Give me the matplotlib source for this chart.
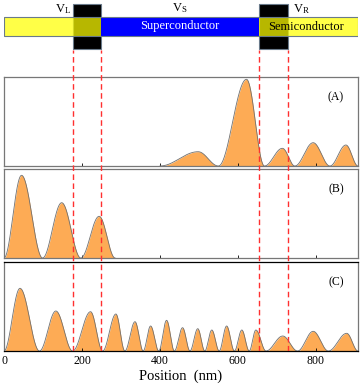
import numpy as np
import matplotlib
matplotlib.use("Agg")
import matplotlib.pyplot as plt
from matplotlib.patches import Rectangle

plt.rcParams['font.family'] = ['Liberation Serif', 'DejaVu Serif']
plt.rcParams['mathtext.fontset'] = 'custom'
plt.rcParams['mathtext.rm'] = 'Liberation Serif'

# ---- data (nm, arbitrary density units) ----
x_max = 908
barriers_left = [176, 250]
barriers_right = [653, 729]
ticks = [0, 200, 400, 600, 800]

# Panel A: node positions and lobe peaks
a_nodes = [400, 550, 668, 746, 836, 908]
a_peak_pos = [498, 622, 714, 793, 877]
a_peak_h = [14.3, 86.7, 17.7, 23.3, 21.0]

# Panel B
b_nodes = [0, 99, 197, 285]
b_peak_pos = [45, 148, 244]
b_peak_h = [82.7, 55.3, 41.7]

# Panel C
c_nodes = [0, 91, 176, 253, 310, 357, 397, 437, 477, 515, 552, 591, 629, 672, 753, 832, 908]
c_peak_pos = [41, 133, 222, 287, 336, 376, 417, 458, 497, 533, 571, 610, 646, 715, 793, 879]
c_peak_h = [62.7, 40.0, 39.3, 37.0, 29.3, 25.0, 30.7, 23.3, 22.3, 21.0, 25.0, 21.0, 21.0, 15.0, 19.7, 17.7]

panel_labels = ['(A)', '(B)', '(C)']


def build_curve(nodes, pos, h, n=120):
    xs, ys = [], []
    for i in range(len(pos)):
        n0, n1, p, hh = nodes[i], nodes[i + 1], pos[i], h[i]
        xl = np.linspace(n0, p, n)
        yl = hh * np.sin(np.pi / 2 * (xl - n0) / (p - n0)) ** 2
        xr = np.linspace(p, n1, n)
        yr = hh * np.sin(np.pi / 2 * (n1 - xr) / (n1 - p)) ** 2
        xs += [xl, xr]
        ys += [yl, yr]
    return np.concatenate(xs), np.concatenate(ys)


W, H = 360, 387
fig = plt.figure(figsize=(W / 100, H / 100), dpi=100)

def ax_rect(x0, y0, x1, y1):
    return [x0 / W, (H - y1) / H, (x1 - x0) / W, (y1 - y0) / H]

# ---- schematic ----
axs = fig.add_axes(ax_rect(4, 0, 358, 55))
axs.set_xlim(0, x_max)
axs.set_ylim(55, 0)
axs.axis('off')
for b in (barriers_left, barriers_right):
    axs.add_patch(Rectangle((b[0], 4), b[1] - b[0], 45, facecolor='black',
                            edgecolor='#6a7a8a', lw=0.8, zorder=1))
axs.add_patch(Rectangle((0, 16.7), x_max, 19, facecolor=(1, 1, 0), alpha=0.72,
                        edgecolor='none', zorder=2))
axs.add_patch(Rectangle((0, 16.7), x_max, 19, facecolor='none',
                        edgecolor='#6a7a8a', lw=0.8, zorder=4))
axs.add_patch(Rectangle((barriers_left[1], 16.7), barriers_right[0] - barriers_left[1], 19,
                        facecolor='#0000ff', edgecolor='none', zorder=3))
axs.text((barriers_left[1] + barriers_right[0]) / 2, 26.5, 'Superconductor', color='white',
         ha='center', va='center', fontsize=9, zorder=5)
axs.text(872, 26.5, 'Semiconductor', color='black',
         ha='right', va='center', fontsize=9, zorder=5)
axs.text(150, 9.5, r'$\mathrm{V_L}$', ha='center', va='center', fontsize=9)
axs.text(452, 8, r'$\mathrm{V_S}$', ha='center', va='center', fontsize=9)
axs.text(763, 9.5, r'$\mathrm{V_R}$', ha='center', va='center', fontsize=9)

# ---- panels ----
panels = [(77, 166, a_nodes, a_peak_pos, a_peak_h),
          (169, 258, b_nodes, b_peak_pos, b_peak_h),
          (262, 351, c_nodes, c_peak_pos, c_peak_h)]
axes = []
for i, (y0, y1, nodes, pos, h) in enumerate(panels):
    ax = fig.add_axes(ax_rect(4, y0, 358, y1))
    xs, ys = build_curve(nodes, pos, h)
    ax.fill_between(xs, 0, ys, color='#fdab55', lw=0)
    ax.plot(xs, ys, color='#707070', lw=0.6)
    ax.set_xlim(0, x_max)
    ax.set_ylim(0, y1 - y0)
    ax.set_yticks([])
    ax.set_xticks(ticks)
    ax.tick_params(axis='x', direction='in', length=2, width=0.6, labelsize=8.5, pad=3)
    for s in ax.spines.values():
        s.set_color('#777777')
        s.set_linewidth(0.9)
    if i == 2:
        ax.spines['top'].set_color('black')
        ax.spines['bottom'].set_color('black')
    if i < 2:
        ax.set_xticklabels([])
    ax.text(0.96, 0.77, panel_labels[i], transform=ax.transAxes, ha='right',
            va='center', fontsize=8.5)
    axes.append(ax)
axes[2].set_xlabel('Position  (nm)', fontsize=10.5, labelpad=2)

# ---- dashed barrier lines overlay ----
axo = fig.add_axes(ax_rect(4, 50, 358, 351))
axo.set_xlim(0, x_max)
axo.set_ylim(0, 1)
axo.axis('off')
axo.patch.set_alpha(0)
for xv in barriers_left + barriers_right:
    axo.axvline(xv, color='#ff3030', lw=1.0, ls=(0, (4, 2.5)))

fig.savefig('out.png', dpi=100)
